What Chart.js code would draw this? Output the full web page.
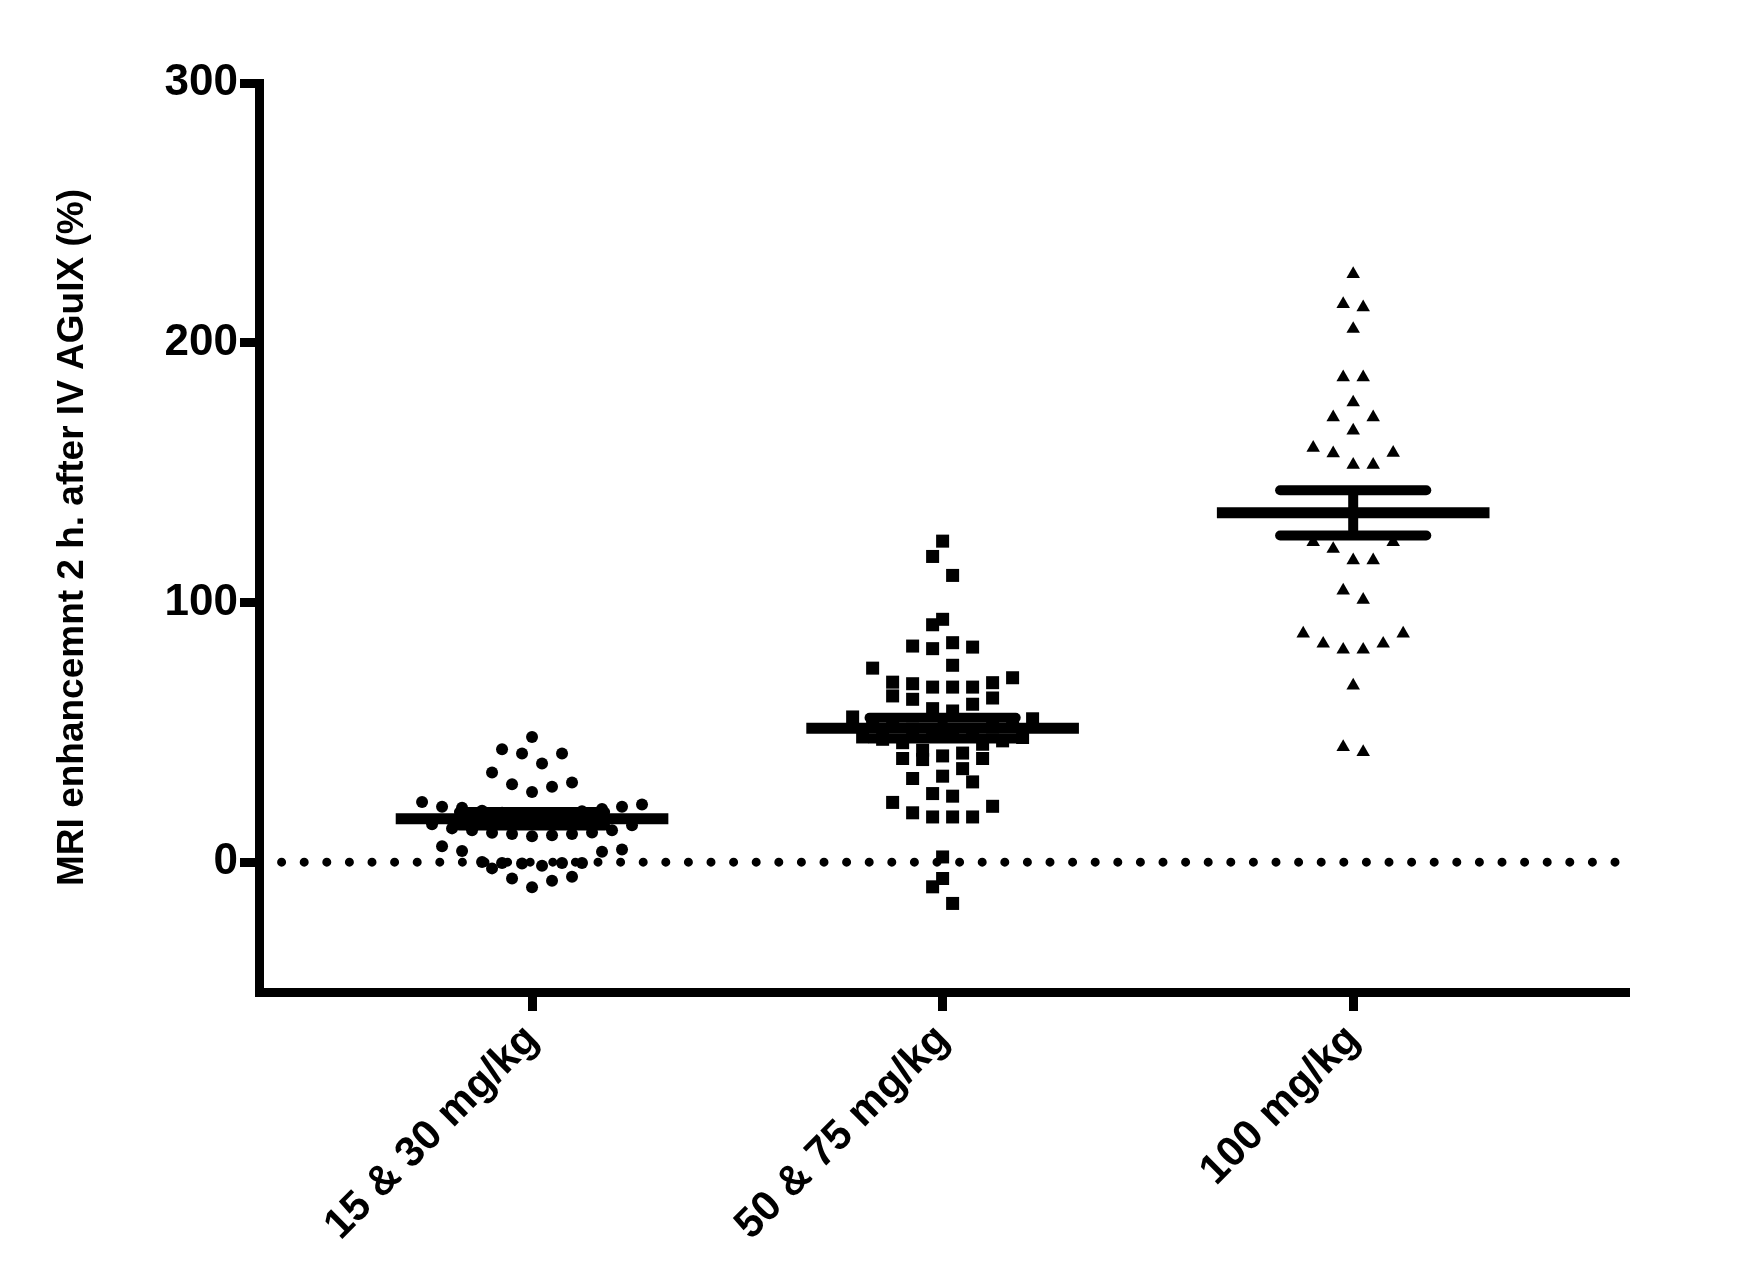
<!DOCTYPE html>
<html>
<head>
<meta charset="utf-8">
<script src="https://cdn.jsdelivr.net/npm/chart.js@4.4.1/dist/chart.umd.min.js"></script>
<style>
  html, body { margin: 0; padding: 0; background: #fff; }
  #chart { width: 1742px; height: 1280px; }
</style>
</head>
<body>
<div id="chart"><canvas id="c" width="1742" height="1280"></canvas></div>
<script>
// values
const categories = ['15 & 30 mg/kg', '50 & 75 mg/kg', '100 mg/kg'];
const yTickValues = [0, 100, 200, 300];

const lowDose = [48.2, 43.5, 41.8, 41.8, 38, 34.5, 30.7, 30, 29, 27,
  23.2, 22.2, 21.3, 21.3, 20.9, 20.5, 19.8, 19.6, 19, 18.6, 18.2, 18,
  14.6, 14.2, 13, 12.3, 12.3, 11.4, 11.3, 10.8, 10.8, 10.4, 10,
  6.1, 4.9, 4.3, 4, 0.1, -0.3, -0.3, -0.3, -0.5, -1.4, -2.4,
  -5.6, -6.3, -7.2, -9.7];

const midDose = [123.6, 117.7, 110.4, 93.5, 91.4, 84.5, 83.2, 82.8, 82.2,
  75.8, 74.7, 71, 69.3, 69.1, 68.7, 67.4, 67.4, 67.4, 64, 63.2, 62.7,
  60.8, 59.1, 58.2, 55.9, 55.2, 54.4, 53.6, 52.8, 52, 51.2, 50.4, 49.6,
  48.8, 48.2, 48, 47.3, 46.7, 46, 45.4, 43.1, 42, 40.9, 39.9, 39.9, 39.5,
  36, 33.1, 32.2, 30.9, 26.4, 25.4, 23, 21.5, 19, 17.4, 17.4, 17.4,
  2, -6.3, -9.5, -15.9];

const highDose = [226.4, 214.9, 213.6, 205.3, 186.7, 186.7, 177, 171.3, 171.3,
  166.2, 159.5, 157.6, 157.4, 153, 153, 123.2, 123.2, 120.6, 116.2, 116.2,
  104.6, 101, 88, 88, 84.1, 84.1, 81.8, 81.8, 68, 44.3, 42.4];

const groupMeans = [16.7, 51.6, 134.5];
const groupSems = [2.6, 4.0, 8.7];

// layout of the column scatter
const X_MIN = 0.335, X_MAX = 3.662;
const SLOT = 0.0487;      // horizontal step between neighbouring symbols
const ROW_SPAN = 7.5;     // values closer than this share a row
const MEAN_HALF = 0.332;
const CAP_HALF = 0.178;

function columnScatter(values, center) {
  const sorted = [...values].sort((a, b) => a - b);
  const rows = [];
  let row = [];
  for (const v of sorted) {
    if (row.length && v - row[0] > ROW_SPAN) { rows.push(row); row = []; }
    row.push(v);
  }
  if (row.length) rows.push(row);

  const pts = [];
  rows.forEach(r => {
    const n = r.length;
    const slots = [];
    if (n % 2) {
      slots.push(0);
      for (let k = 1; slots.length < n; k++) { slots.push(k); if (slots.length < n) slots.push(-k); }
    } else {
      for (let k = 0.5; slots.length < n; k++) { slots.push(k); slots.push(-k); }
    }
    r.forEach((v, i) => pts.push({ x: center + slots[i] * SLOT, y: v }));
  });
  return pts;
}

function segment(x1, x2, y) {
  return [{ x: x1, y }, { x: x2, y }];
}

const groups = [lowDose, midDose, highDose];
const styles = [
  { pointStyle: 'circle', radius: 6 },
  { pointStyle: 'rect', radius: 9.2 },
  { pointStyle: 'triangle', radius: 7.8 },
];

const datasets = [];

// dotted zero line
datasets.push({
  type: 'line',
  data: segment(X_MIN, X_MAX, 0),
  borderColor: '#000',
  borderWidth: 9,
  borderDash: [0, 22.6],
  borderCapStyle: 'round',
  pointRadius: 0,
  order: 10,
});

groups.forEach((vals, i) => {
  datasets.push({
    type: 'scatter',
    data: columnScatter(vals, i + 1),
    pointStyle: styles[i].pointStyle,
    pointRadius: styles[i].radius,
    pointBackgroundColor: '#000',
    pointBorderColor: '#000',
    pointBorderWidth: 0,
    order: 5,
  });

  const c = i + 1, m = groupMeans[i], s = groupSems[i];
  // mean
  datasets.push({
    type: 'line', data: segment(c - MEAN_HALF, c + MEAN_HALF, m),
    borderColor: '#000', borderWidth: 11, borderCapStyle: 'butt', pointRadius: 0, order: 1,
  });
  // SEM whisker and caps
  datasets.push({
    type: 'line', data: [{ x: c, y: m - s }, { x: c, y: m + s }],
    borderColor: '#000', borderWidth: 10, pointRadius: 0, order: 1,
  });
  [m - s, m + s].forEach(v => datasets.push({
    type: 'line', data: segment(c - CAP_HALF, c + CAP_HALF, v),
    borderColor: '#000', borderWidth: 10, borderCapStyle: 'round', pointRadius: 0, order: 1,
  }));
});

const tickFont = { family: 'Liberation Sans, Arial, sans-serif', size: 44, weight: 'bold' };

new Chart(document.getElementById('c'), {
  data: { datasets },
  options: {
    responsive: false,
    animation: false,
    events: [],
    layout: { padding: { left: 0, top: 83, right: 117, bottom: 0 } },
    plugins: { legend: { display: false }, tooltip: { enabled: false } },
    scales: {
      x: {
        type: 'linear',
        min: X_MIN,
        max: X_MAX,
        afterBuildTicks: s => { s.ticks = categories.map((_, i) => ({ value: i + 1 })); },
        afterFit: s => { s.height = 288; },
        ticks: {
          callback: v => categories[v - 1],
          font: { family: 'Liberation Sans, Arial, sans-serif', size: 42, weight: 'bold' },
          color: '#000',
          minRotation: 45,
          maxRotation: 45,
          padding: 4,
        },
        grid: { drawOnChartArea: false, drawTicks: true, tickLength: 19, lineWidth: 9, color: '#000' },
        border: { display: true, width: 9, color: '#000' },
      },
      y: {
        type: 'linear',
        min: -50,
        max: 300,
        afterBuildTicks: s => { s.ticks = yTickValues.map(v => ({ value: v })); },
        afterFit: s => { s.width = 259; },
        ticks: { font: tickFont, color: '#000', padding: 2 },
        grid: { drawOnChartArea: false, drawTicks: true, tickLength: 19, lineWidth: 9, color: '#000' },
        border: { display: true, width: 9, color: '#000' },
        title: {
          display: true,
          text: 'MRI enhancemnt 2 h. after IV AGuIX (%)',
          color: '#000',
          font: { family: 'Liberation Sans, Arial, sans-serif', size: 37, weight: 'bold' },
          padding: { top: 51, bottom: 0 },
        },
      },
    },
  },
});
</script>
</body>
</html>
